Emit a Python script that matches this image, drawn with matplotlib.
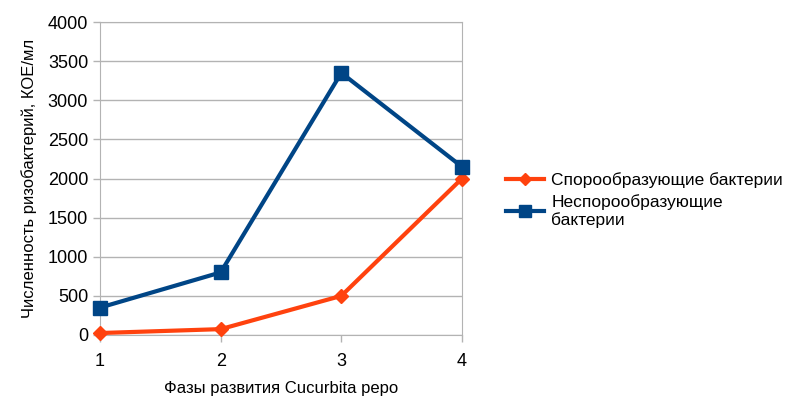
import matplotlib.pyplot as plt
from matplotlib.lines import Line2D

plt.rcParams['font.family'] = ['Liberation Sans', 'DejaVu Sans']

phases = [1, 2, 3, 4]
spore = [25, 75, 500, 2000]
nonspore = [350, 800, 3350, 2150]
spore_label = 'Спорообразующие бактерии'
nonspore_label = 'Неспорообразующие\nбактерии'

fig = plt.figure(figsize=(7.95, 4.01), dpi=100)
ax = fig.add_axes([0.1258, 0.1646, 0.4553, 0.7805])

ax.plot(phases, spore, color='#ff420e', lw=3, marker='D', ms=7,
        clip_on=False, zorder=3)
ax.plot(phases, nonspore, color='#004586', lw=3, marker='s', ms=10,
        clip_on=False, zorder=3)

ax.set_xlim(1, 4)
ax.set_ylim(0, 4000)
ax.set_xticks(phases)
ax.set_yticks(range(0, 4001, 500))
ax.yaxis.grid(True, color='#b3b3b3', lw=1)
ax.set_axisbelow(True)
for s in ax.spines.values():
    s.set_color('#b3b3b3')
ax.tick_params(colors='#b3b3b3', labelcolor='black', labelsize=13, length=5, width=1)
ax.tick_params(axis='x', pad=8)

ax.set_xlabel('Фазы развития Cucurbita pepo', fontsize=12, labelpad=8)
ax.set_ylabel('Численность ризобактерий, КОЕ/мл', fontsize=12, labelpad=8)

handles = [Line2D([], [], color='#ff420e', lw=3, marker='D', ms=6),
           Line2D([], [], color='#004586', lw=3, marker='s', ms=8)]
fig.legend(handles, [spore_label, nonspore_label], loc='upper left',
           bbox_to_anchor=(0.617, 0.61), frameon=False, fontsize=12.5,
           handlelength=2.2, labelspacing=0.35, handletextpad=0.4)

fig.savefig('out.png', dpi=100)
